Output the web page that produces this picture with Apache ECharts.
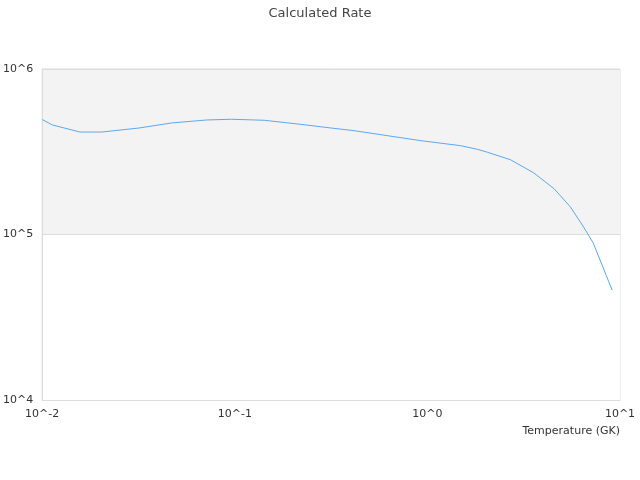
<!DOCTYPE html>
<html>
<head>
<meta charset="utf-8">
<script src="https://cdn.jsdelivr.net/npm/echarts@6/dist/echarts.min.js"></script>
<style>html,body{margin:0;padding:0;background:#fff;}#c{width:640px;height:480px;}</style>
</head>
<body>
<div id="c"></div>
<script>
const temperatures = [0.01, 0.0113, 0.0157, 0.0204, 0.0318, 0.047, 0.0714, 0.0962, 0.142, 0.2135, 0.316, 0.416, 0.624, 0.925, 1.49, 1.82, 2.05, 2.70, 3.56, 4.55, 5.52, 6.47, 7.26, 9.10];
const rates = [4.95e5, 4.59e5, 4.16e5, 4.16e5, 4.40e5, 4.72e5, 4.92e5, 4.97e5, 4.90e5, 4.65e5, 4.40e5, 4.24e5, 3.95e5, 3.69e5, 3.44e5, 3.27e5, 3.14e5, 2.83e5, 2.36e5, 1.89e5, 1.47e5, 1.11e5, 8.89e4, 4.62e4];
const titleText = 'Calculated Rate';
const xName = 'Temperature (GK)';

const chart = echarts.init(document.getElementById('c'));
const fmt = v => '10^' + Math.round(Math.log10(v));
chart.setOption({
  animation: false,
  title: { text: titleText, left: 'center', top: 2, textStyle: { fontSize: 13, fontWeight: 'normal', color: '#444', fontFamily: 'DejaVu Sans' } },
  grid: { left: 40, right: 20, top: 69, bottom: 80, show: true, borderColor: '#ddd', borderWidth: 1, backgroundColor: 'transparent' },
  xAxis: {
    type: 'log', logBase: 10, min: 0.01, max: 10,
    name: xName, nameLocation: 'end', nameGap: 0,
    nameTextStyle: { align: 'right', verticalAlign: 'top', padding: [26, 0, 0, 0], fontSize: 11, color: '#333', fontFamily: 'DejaVu Sans' },
    axisLine: { lineStyle: { color: '#ddd' } },
    axisTick: { show: false },
    splitLine: { show: false },
    axisLabel: { formatter: fmt, fontSize: 11, color: '#333', fontFamily: 'DejaVu Sans', margin: 9 }
  },
  yAxis: {
    type: 'log', logBase: 10, min: 1e4, max: 1e6,
    axisLine: { show: true, lineStyle: { color: '#ddd' } },
    axisTick: { show: false },
    splitLine: { show: true, lineStyle: { color: '#ddd' } },
    splitArea: { show: true, areaStyle: { color: ['#ffffff', '#f3f3f3'] } },
    axisLabel: { formatter: fmt, fontSize: 11, color: '#333', fontFamily: 'DejaVu Sans', margin: 9 }
  },
  series: [{
    type: 'line',
    data: temperatures.map((t, i) => [t, rates[i]]),
    showSymbol: false,
    smooth: false,
    lineStyle: { color: '#5ca8f2', width: 1 },
    itemStyle: { color: '#5ca8f2' }
  }]
});
</script>
</body>
</html>
